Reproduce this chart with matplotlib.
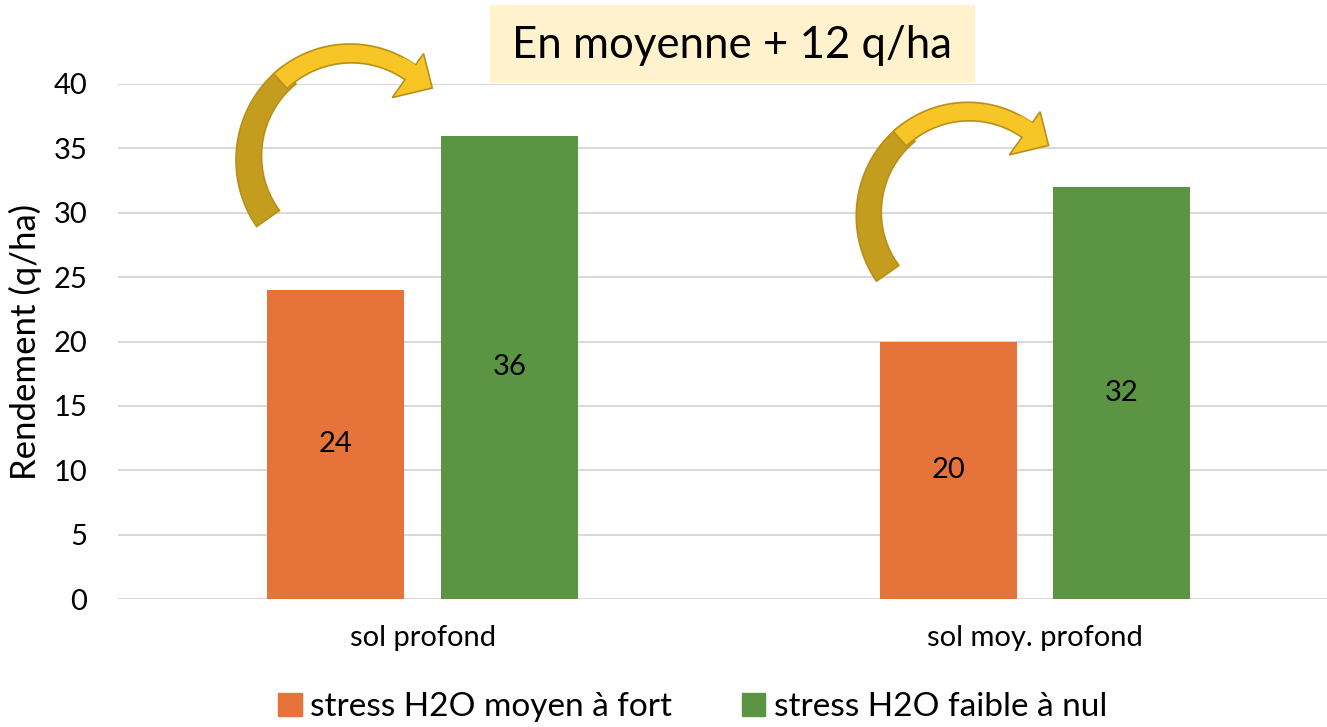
import matplotlib.pyplot as plt
import numpy as np
from matplotlib.patches import Polygon, Rectangle, Patch

plt.rcParams['font.family'] = ['Lato', 'DejaVu Sans']

# données
categories = ['sol profond', 'sol moy. profond']
series_names = ['stress H2O moyen à fort', 'stress H2O faible à nul']
stress_fort = [24, 20]
stress_faible = [36, 32]
y_ticks = [0, 5, 10, 15, 20, 25, 30, 35, 40]
titre = 'En moyenne + 12 q/ha'

c_orange = '#E5733A'
c_vert = '#5B9442'
c_grid = '#D9D9D9'


def curved_arrow(ax, cx, cy, s=1.0):
    """Flèche courbe façon Excel (coordonnées en pixels)"""
    dark, light, edge = '#C49C1E', '#F8C526', '#B89019'
    rx, ry = 114 * s, 116 * s

    def band(t0, t1, w0, w1):
        th = np.radians(np.linspace(t0, t1, 60))
        w = np.linspace(w0, w1, 60) * s
        ox, oy = cx + rx * np.cos(th), cy - ry * np.sin(th)
        ix, iy = cx + (rx - w) * np.cos(th), cy - (ry - w) * np.sin(th)
        return np.vstack([np.c_[ox, oy], np.c_[ix, iy][::-1]])

    ax.add_patch(Polygon(band(215, 126, 28, 22), closed=True, fc=dark,
                         ec=edge, lw=1.2, zorder=5))
    ax.add_patch(Polygon(band(132, 55, 20, 18), closed=True, fc=light,
                         ec=edge, lw=1.2, zorder=6))
    # pointe
    te = np.radians(55)
    w = 18 * s
    m = np.array([cx + (rx - w / 2) * np.cos(te), cy - (ry - w / 2) * np.sin(te)])
    n = np.array([ry * np.cos(te), -rx * np.sin(te)])
    n = n / np.linalg.norm(n)
    t = np.array([rx * np.sin(te), ry * np.cos(te)])
    t = t / np.linalg.norm(t)
    pts = [m + n * 23 * s, m + t * 27 * s, m - n * 31 * s]
    ax.add_patch(Polygon(pts, closed=True, fc=light, ec=edge, lw=1.2, zorder=7))
    # recouvre le raccord
    ax.add_patch(Polygon(band(62, 54, 17, 17), closed=True, fc=light,
                         ec='none', zorder=8))


fig = plt.figure(figsize=(13.27, 7.27), dpi=100)
ax = fig.add_axes([118 / 1327, 128 / 727, 1209 / 1327, 515 / 727])

x = np.arange(len(categories))
width = 0.224
off = 0.142
b1 = ax.bar(x - off, stress_fort, width, color=c_orange, zorder=3, label=series_names[0])
b2 = ax.bar(x + off, stress_faible, width, color=c_vert, zorder=3, label=series_names[1])

for bars in (b1, b2):
    for rect in bars:
        h = rect.get_height()
        ax.text(rect.get_x() + rect.get_width() / 2, h / 2, f'{h:g}',
                ha='center', va='center', fontsize=21, color='black', zorder=4)

ax.set_xlim(-0.498, 1.477)
ax.set_ylim(0, 40)
ax.set_yticks(y_ticks)
ax.set_xticks(x)
ax.set_xticklabels(categories)
ax.tick_params(axis='y', length=0, labelsize=21, pad=22)
ax.tick_params(axis='x', length=0, labelsize=21, pad=19)
ax.yaxis.grid(True, color=c_grid, lw=1.5, zorder=0)
ax.set_axisbelow(True)
for sp in ax.spines.values():
    sp.set_visible(False)
ax.set_ylabel('Rendement (q/ha)', fontsize=25)
ax.yaxis.set_label_coords(-0.063, 0.5)

# couche décorative en pixels
ov = fig.add_axes([0, 0, 1, 1], facecolor='none')
ov.set_xlim(0, 1327)
ov.set_ylim(727, 0)
ov.axis('off')
ov.add_patch(Rectangle((490, 5), 485, 78, fc='#FFF2CC', ec='none', zorder=2))
ov.text(732, 45, titre, ha='center', va='center', fontsize=31.5, zorder=3)
curved_arrow(ov, 350, 160, 1.0)
curved_arrow(ov, 968, 216, 0.98)

handles = [Patch(color=c_orange), Patch(color=c_vert)]
fig.legend(handles, series_names, loc='lower center', bbox_to_anchor=(0.522, -0.035),
           ncol=2, frameon=False, fontsize=24, handlelength=0.7, handleheight=0.7,
           handletextpad=0.25, columnspacing=2.1)

fig.savefig('out.png', dpi=100)
